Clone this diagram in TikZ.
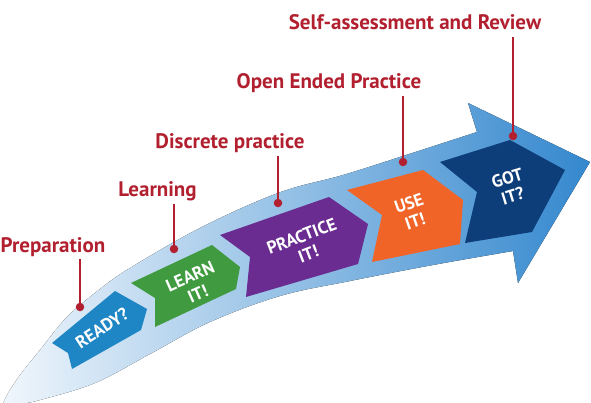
\documentclass[tikz,border=0pt]{standalone}
\usepackage{fontspec}
\setmainfont{PT Sans}
\definecolor{labelred}{RGB}{178,32,48}
\definecolor{readyblue}{RGB}{30,134,196}
\definecolor{learngreen}{RGB}{64,155,64}
\definecolor{practpurple}{RGB}{106,44,145}
\definecolor{useorange}{RGB}{240,100,40}
\definecolor{gotnavy}{RGB}{14,62,122}
\definecolor{bandL}{RGB}{240,246,252}
\definecolor{bandM}{RGB}{140,190,230}
\definecolor{bandR}{RGB}{52,136,206}
\begin{document}
\begin{tikzpicture}[x=1pt,y=-1pt,
  lbl/.style={text=labelred, font=\bfseries\fontsize{21}{21}\selectfont, inner xsep=0pt, inner ysep=2pt, text height=15pt, text depth=5pt, anchor=base},
  chtext/.style={text=white, font=\bfseries\fontsize{17.5}{19}\selectfont, align=center, inner sep=0pt},
  dotmark/.style={circle, fill=labelred, minimum size=8.5pt, inner sep=0pt},
  leader/.style={draw=labelred, line width=2.4pt}]
\useasboundingbox[fill=white] (0,0) rectangle (591,403);
% the big curved arrow
\fill[left color=bandL, middle color=bandM, right color=bandR]
  (3,403) -- plot[smooth,tension=0.6] coordinates {(8,393) (20,375) (40,350) (67,317) (100,289) (130,268) (200,228) (278,193) (343,175) (403,156) (477,132)}
  -- (468,103) -- (590,162) -- (518,283) -- (513,251)
  -- plot[smooth,tension=0.6] coordinates {(513,251) (433,265) (350,281) (280,296) (210,322) (150,354) (95,383) (40,400) (25,403)}
  -- cycle;
% chevrons
\fill[readyblue] (52,343) -- (115,291) -- (147,309) -- (141,330) -- (72,369) -- (68,353) -- cycle;
\fill[learngreen] (131,283) -- (212,245) -- (240,267) -- (236,289) -- (155,327) -- (155,298) -- cycle;
\fill[practpurple] (220,235) -- (329,197) -- (368,224) -- (358,264) -- (246,297) -- (250,257) -- cycle;
\fill[useorange] (347,190) -- (423,170) -- (463,200) -- (460,244) -- (372,262) -- (382,215) -- cycle;
\fill[gotnavy] (440,162) -- (510,140) -- (565,170) -- (532,232) -- (465,243) -- (477,192) -- cycle;
% chevron texts
\node[chtext, rotate=33] (ready) at (102,328) {READY?};
\node[chtext, rotate=24] (learn) at (194,285) {LEARN\\IT!};
\node[chtext, rotate=21] (practice) at (305,245) {PRACTICE\\IT!};
\node[chtext, rotate=19] (use) at (412,212) {USE\\IT!};
\node[chtext, rotate=17] (got) at (510,187) {GOT\\IT?};
% labels
\node[lbl] (lprep) at (53,252) {Preparation};
\node[lbl] (llearn) at (157.5,197) {Learning};
\node[lbl] (ldisc) at (230,149) {Discrete practice};
\node[lbl] (lopen) at (329,89) {Open Ended Practice};
\node[lbl] (lself) at (415,30) {Self-assessment and Review};
% dots
\node[dotmark] (dprep) at (80,307) {};
\node[dotmark] (dlearn) at (174,249) {};
\node[dotmark] (ddisc) at (278,203) {};
\node[dotmark] (dopen) at (403,162) {};
\node[dotmark] (dself) at (513,136) {};
% leaders
\draw[leader] (dprep |- lprep.south) -- (dprep.center);
\draw[leader] (dlearn |- llearn.south) -- (dlearn.center);
\draw[leader] (ddisc |- ldisc.south) -- (ddisc.center);
\draw[leader] (dopen |- lopen.south) -- (dopen.center);
\draw[leader] (dself |- lself.south) -- (dself.center);
\end{tikzpicture}
\end{document}
